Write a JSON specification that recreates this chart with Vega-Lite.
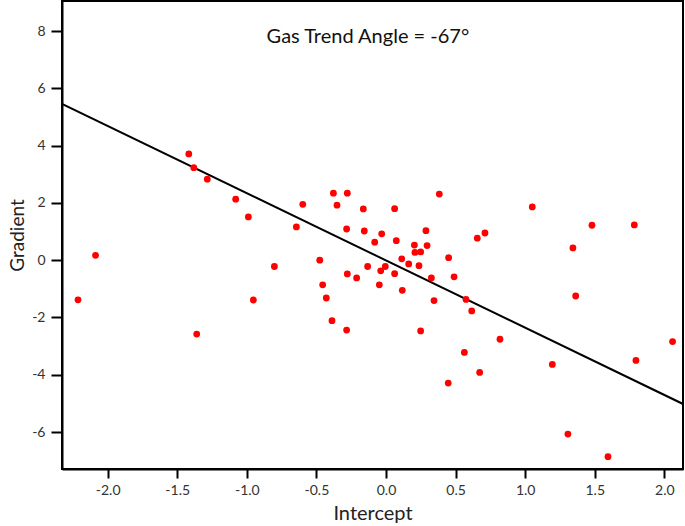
{
  "$schema": "https://vega.github.io/schema/vega-lite/v6.json",
  "width": 621,
  "height": 468,
  "autosize": {"type": "none"},
  "padding": {"left": 62, "top": 1, "right": 2, "bottom": 57},
  "background": "white",
  "config": {
    "view": {"stroke": "black", "strokeWidth": 2},
    "font": "Lato",
    "axis": {
      "grid": false,
      "domainColor": "black",
      "domainWidth": 2,
      "tickColor": "black",
      "tickWidth": 2,
      "labelFont": "Lato",
      "labelFontSize": 14,
      "labelColor": "#333333",
      "titleFont": "Lato",
      "titleFontSize": 20,
      "titleFontWeight": "normal",
      "titleColor": "#222222"
    }
  },
  "datasets": {
    "pts": [
      {"intercept": -2.213, "gradient": -1.385},
      {"intercept": -2.087, "gradient": 0.17},
      {"intercept": -1.417, "gradient": 3.71},
      {"intercept": -1.381, "gradient": 3.23},
      {"intercept": -1.284, "gradient": 2.83},
      {"intercept": -1.08, "gradient": 2.13},
      {"intercept": -1.36, "gradient": -2.58},
      {"intercept": -0.989, "gradient": 1.51},
      {"intercept": -0.644, "gradient": 1.16},
      {"intercept": -0.598, "gradient": 1.95},
      {"intercept": -0.378, "gradient": 2.34},
      {"intercept": -0.278, "gradient": 2.34},
      {"intercept": -0.352, "gradient": 1.92},
      {"intercept": -0.163, "gradient": 1.79},
      {"intercept": 0.062, "gradient": 1.8},
      {"intercept": 0.383, "gradient": 2.31},
      {"intercept": -0.283, "gradient": 1.09},
      {"intercept": -0.156, "gradient": 1.02},
      {"intercept": -0.031, "gradient": 0.92},
      {"intercept": -0.081, "gradient": 0.63},
      {"intercept": 0.074, "gradient": 0.68},
      {"intercept": 0.287, "gradient": 1.03},
      {"intercept": 0.204, "gradient": 0.53},
      {"intercept": 0.295, "gradient": 0.51},
      {"intercept": 0.208, "gradient": 0.27},
      {"intercept": 0.249, "gradient": 0.29},
      {"intercept": 0.45, "gradient": 0.09},
      {"intercept": 0.656, "gradient": 0.77},
      {"intercept": 0.711, "gradient": 0.95},
      {"intercept": -0.802, "gradient": -0.22},
      {"intercept": -0.476, "gradient": 0.0},
      {"intercept": 0.113, "gradient": 0.05},
      {"intercept": 0.163, "gradient": -0.13},
      {"intercept": 0.237, "gradient": -0.19},
      {"intercept": -0.132, "gradient": -0.22},
      {"intercept": -0.005, "gradient": -0.22},
      {"intercept": -0.038, "gradient": -0.37},
      {"intercept": 0.062, "gradient": -0.47},
      {"intercept": -0.278, "gradient": -0.48},
      {"intercept": -0.211, "gradient": -0.62},
      {"intercept": 0.326, "gradient": -0.62},
      {"intercept": 0.489, "gradient": -0.58},
      {"intercept": -0.455, "gradient": -0.86},
      {"intercept": -0.048, "gradient": -0.86},
      {"intercept": 0.117, "gradient": -1.05},
      {"intercept": -0.429, "gradient": -1.32},
      {"intercept": 0.345, "gradient": -1.41},
      {"intercept": 0.575, "gradient": -1.37},
      {"intercept": 0.616, "gradient": -1.77},
      {"intercept": -0.953, "gradient": -1.39},
      {"intercept": -0.388, "gradient": -2.11},
      {"intercept": -0.283, "gradient": -2.44},
      {"intercept": 0.249, "gradient": -2.47},
      {"intercept": 1.051, "gradient": 1.86},
      {"intercept": 1.48, "gradient": 1.22},
      {"intercept": 1.784, "gradient": 1.23},
      {"intercept": 1.343, "gradient": 0.43},
      {"intercept": 1.363, "gradient": -1.25},
      {"intercept": 0.819, "gradient": -2.76},
      {"intercept": 0.563, "gradient": -3.22},
      {"intercept": 0.673, "gradient": -3.92},
      {"intercept": 0.447, "gradient": -4.29},
      {"intercept": 1.195, "gradient": -3.64},
      {"intercept": 1.796, "gradient": -3.5},
      {"intercept": 2.059, "gradient": -2.84},
      {"intercept": 1.307, "gradient": -6.07},
      {"intercept": 1.595, "gradient": -6.86}
    ],
    "trend": [
      {"intercept": -2.328, "gradient": 5.46},
      {"intercept": 2.134, "gradient": -5.02}
    ],
    "label": [
      {"intercept": -0.13, "gradient": 7.8, "text": "Gas Trend Angle = -67°"}
    ]
  },
  "encoding": {
    "x": {
      "field": "intercept",
      "type": "quantitative",
      "scale": {"domain": [-2.328, 2.134], "nice": false, "zero": false},
      "axis": {
        "title": "Intercept",
        "values": [-2, -1.5, -1, -0.5, 0, 0.5, 1, 1.5, 2],
        "format": ".1f",
        "labelExpr": "replace(datum.label, '\u2212', '-')",
        "tickSize": 9,
        "labelPadding": 5,
        "titlePadding": 6
      }
    },
    "y": {
      "field": "gradient",
      "type": "quantitative",
      "scale": {"domain": [-7.29, 9.05], "nice": false, "zero": false},
      "axis": {
        "title": "Gradient",
        "values": [-6, -4, -2, 0, 2, 4, 6, 8],
        "format": "d",
        "labelExpr": "replace(datum.label, '\u2212', '-')",
        "tickSize": 11,
        "labelPadding": 6,
        "titlePadding": 4,
        "titleFontSize": 19
      }
    }
  },
  "layer": [
    {
      "data": {"name": "trend"},
      "mark": {"type": "line", "color": "black", "strokeWidth": 2, "clip": true}
    },
    {
      "data": {"name": "pts"},
      "mark": {"type": "circle", "color": "#ff0000", "opacity": 1, "size": 46}
    },
    {
      "data": {"name": "label"},
      "mark": {"type": "text", "fontSize": 20, "font": "Lato", "color": "#111111", "align": "center", "baseline": "middle"},
      "encoding": {"text": {"field": "text"}}
    }
  ]
}
